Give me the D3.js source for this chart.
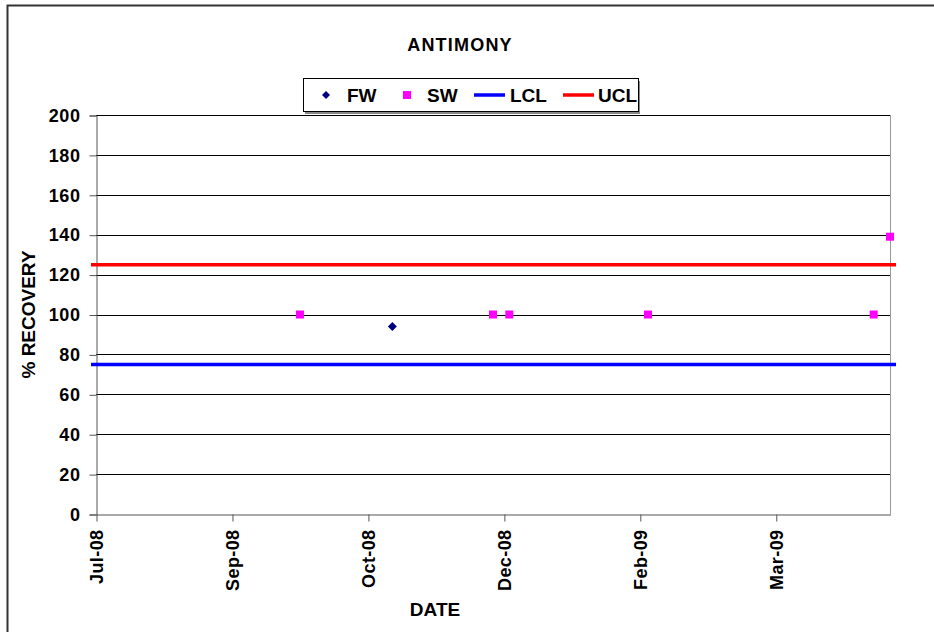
<!DOCTYPE html>
<html lang="en">
<head>
<meta charset="UTF-8">
<title>Antimony</title>
<script src="https://d3js.org/d3.v7.min.js"></script>
<style>
  body { margin: 0; background: #fff; }
  text { font-family: "Liberation Sans", Arial, sans-serif; font-weight: bold; fill: #000; }
</style>
</head>
<body>
<script>
// data
const fwDates = ["2008-11-07"];
const fwValues = [94];
const swDates = ["2008-10-04", "2008-12-14", "2008-12-20", "2009-02-09", "2009-05-03", "2009-05-09"];
const swValues = [100, 100, 100, 100, 100, 139];
const lclValue = 75;
const uclValue = 125;
const xDomain = ["2008-07-21", "2009-05-09"];
const xTickDates = ["2008-07-21", "2008-09-09", "2008-10-29", "2008-12-18", "2009-02-06", "2009-03-28"];
const yTicks = [0, 20, 40, 60, 80, 100, 120, 140, 160, 180, 200];

const width = 934, height = 632;
const plot = { left: 96, right: 890, top: 115, bottom: 514 };
const parse = d3.utcParse("%Y-%m-%d");

const svg = d3.select("body").append("svg")
    .attr("width", width)
    .attr("height", height);

svg.append("rect").attr("width", width).attr("height", height).attr("fill", "#fff");
// chart area border (only top/left visible in the frame)
svg.append("rect")
    .attr("x", 7.5).attr("y", 5.5)
    .attr("width", width + 20).attr("height", height + 20)
    .attr("fill", "none").attr("stroke", "#333").attr("stroke-width", 2);

const x = d3.scaleUtc()
    .domain(xDomain.map(parse))
    .range([plot.left, plot.right]);

const y = d3.scaleLinear()
    .domain([0, 200])
    .range([plot.bottom, plot.top]);

// gridlines
svg.append("g")
    .selectAll("line")
    .data(yTicks.filter(d => d > 0))
    .join("line")
    .attr("x1", plot.left).attr("x2", plot.right)
    .attr("y1", d => Math.round(y(d)) + 0.5).attr("y2", d => Math.round(y(d)) + 0.5)
    .attr("stroke", "#000");

// right border of plot area
svg.append("line")
    .attr("x1", plot.right + 0.5).attr("x2", plot.right + 0.5)
    .attr("y1", plot.top).attr("y2", plot.bottom)
    .attr("stroke", "#999");

// y axis
const yAxis = svg.append("g")
    .attr("transform", `translate(${plot.left + 0.5},0.5)`)
    .call(d3.axisLeft(y).tickValues(yTicks).tickSize(7).tickPadding(9));
yAxis.select(".domain").attr("stroke", "#555");
yAxis.selectAll(".tick line").attr("stroke", "#555");
yAxis.selectAll(".tick text")
    .style("font-size", "18px").style("letter-spacing", "0.6px")
    .attr("fill", "#000");

// x axis
const xAxis = svg.append("g")
    .attr("transform", `translate(0.5,${plot.bottom + 0.5})`)
    .call(d3.axisBottom(x)
        .tickValues(xTickDates.map(parse))
        .tickFormat(d3.utcFormat("%b-%y"))
        .tickSize(7).tickSizeOuter(0));
xAxis.select(".domain").attr("stroke", "#555");
xAxis.selectAll(".tick line").attr("stroke", "#555");
xAxis.selectAll(".tick text")
    .style("font-size", "18px").style("letter-spacing", "0.4px")
    .attr("fill", "#000")
    .attr("text-anchor", "end")
    .attr("transform", "rotate(-90)")
    .attr("x", -15).attr("y", 0).attr("dy", "0.36em");

// control limits
const limits = [
    { value: lclValue, color: "#0000ff" },
    { value: uclValue, color: "#ff0000" }
];
svg.append("g")
    .selectAll("line")
    .data(limits)
    .join("line")
    .attr("x1", x.range()[0] - 5).attr("x2", x.range()[1] + 6)
    .attr("y1", d => y(d.value)).attr("y2", d => y(d.value))
    .attr("stroke", d => d.color)
    .attr("stroke-width", 3.5);

// SW markers
svg.append("g")
    .selectAll("rect")
    .data(swDates.map((d, i) => ({ date: parse(d), value: swValues[i] })))
    .join("rect")
    .attr("x", d => x(d.date) - 4).attr("y", d => y(d.value) - 4)
    .attr("width", 8).attr("height", 8)
    .attr("fill", "#ff00ff");

// FW markers
svg.append("g")
    .selectAll("path")
    .data(fwDates.map((d, i) => ({ date: parse(d), value: fwValues[i] })))
    .join("path")
    .attr("transform", d => `translate(${x(d.date)},${y(d.value)})`)
    .attr("d", "M0,-4.5L4.5,0L0,4.5L-4.5,0Z")
    .attr("fill", "#000080");

// titles
svg.append("text")
    .attr("x", 460).attr("y", 51)
    .attr("text-anchor", "middle")
    .style("font-size", "18px").style("letter-spacing", "1.2px")
    .text("ANTIMONY");

svg.append("text")
    .attr("x", 435).attr("y", 616)
    .attr("text-anchor", "middle")
    .style("font-size", "19px")
    .text("DATE");

svg.append("text")
    .attr("transform", `translate(35,${(plot.top + plot.bottom) / 2}) rotate(-90)`)
    .attr("text-anchor", "middle")
    .style("font-size", "19px")
    .text("% RECOVERY");

// legend
const legend = svg.append("g").attr("transform", "translate(303,78)");
legend.append("rect")
    .attr("x", 2).attr("y", 3).attr("width", 335).attr("height", 33)
    .attr("fill", "#888");
legend.append("rect")
    .attr("x", 0.5).attr("y", 0.5).attr("width", 335).attr("height", 33)
    .attr("fill", "#fff").attr("stroke", "#000");

const items = [
    { label: "FW", type: "diamond", color: "#000080", mx: 23, tx: 44 },
    { label: "SW", type: "square", color: "#ff00ff", mx: 104, tx: 124 },
    { label: "LCL", type: "line", color: "#0000ff", mx: 171, tx: 207 },
    { label: "UCL", type: "line", color: "#ff0000", mx: 260, tx: 295 }
];
items.forEach(it => {
    if (it.type === "diamond") {
        legend.append("path")
            .attr("transform", `translate(${it.mx},17)`)
            .attr("d", "M0,-4L4,0L0,4L-4,0Z")
            .attr("fill", it.color);
    } else if (it.type === "square") {
        legend.append("rect")
            .attr("x", it.mx - 4).attr("y", 13).attr("width", 8).attr("height", 8)
            .attr("fill", it.color);
    } else {
        legend.append("line")
            .attr("x1", it.mx).attr("x2", it.mx + 31)
            .attr("y1", 17).attr("y2", 17)
            .attr("stroke", it.color).attr("stroke-width", 3.5);
    }
    legend.append("text")
        .attr("x", it.tx).attr("y", 24)
        .style("font-size", "19px")
        .text(it.label);
});
</script>
</body>
</html>
